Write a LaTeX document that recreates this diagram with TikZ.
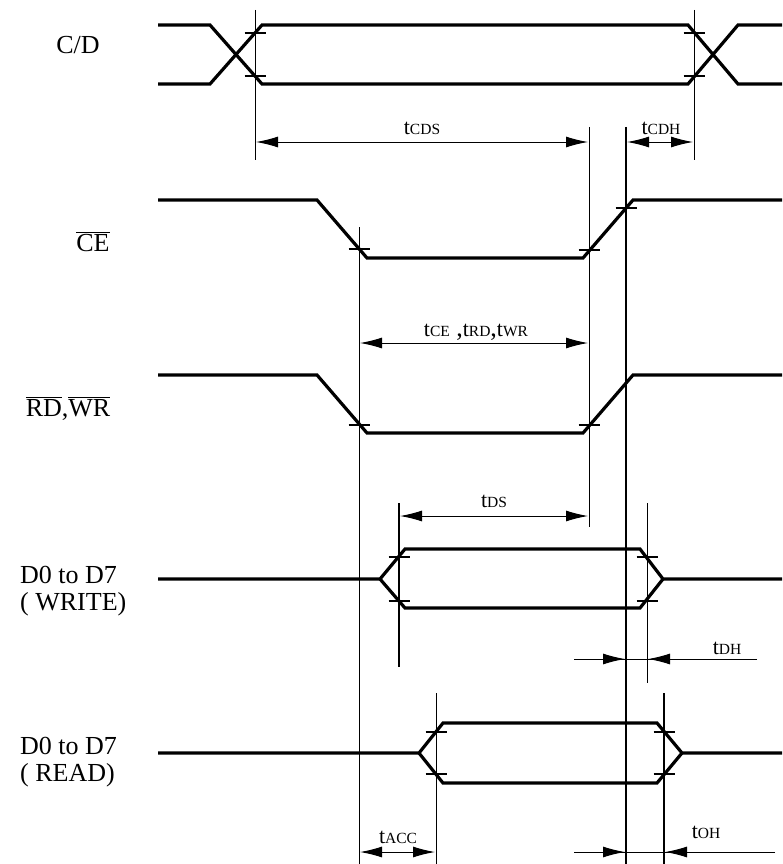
\documentclass[tikz,border=0pt]{standalone}
\usepackage{fontspec}
\setmainfont{Liberation Serif}
\usetikzlibrary{arrows.meta}
\newcommand{\tm}[1]{{\fontsize{22}{22}\selectfont t}{\fontsize{15.5}{15.5}\selectfont #1}}

\begin{document}
\begin{tikzpicture}[%
    x=1pt,y=-1pt,
    every node/.style={
        font=\fontsize{26}{27}\selectfont,
        inner sep=0pt,
    },
    signal/.style={line width=3.2pt},
    guide/.style={line width=1pt},
    guidethick/.style={line width=2pt},
    marker/.style={line width=1.3pt},
    dim/.style={line width=1pt},
    dimboth/.style={dim,{Latex[length=22pt,width=11pt]}-{Latex[length=22pt,width=11pt]}},
    dimto/.style={dim,-{Latex[length=22pt,width=11pt]}},
]
\useasboundingbox (0,0) rectangle (782,864);

% signal names
\node[anchor=base] (cd) at (78,54) {C/D};
\node[anchor=base] (ce) at (93,251) {$\overline{\mbox{CE}}$};
\node[anchor=base] (rdwr) at (68,416) {$\overline{\mbox{RD}}$,$\overline{\mbox{WR}}$};
\node[anchor=base west,align=left] (dwrite) at (20,610) {D0 to D7\\( WRITE)};
\node[anchor=base west,align=left] (dread) at (20,781) {D0 to D7\\( READ)};

% draw waveforms
\draw[signal] (158,25) -- (210,25) -- (262,84) -- (688,84) -- (738,25) -- (782,25);
\draw[signal] (158,84) -- (210,84) -- (262,25) -- (688,25) -- (738,84) -- (782,84);
\draw[signal] (158,200) -- (317,200) -- (367,258) -- (583,258) -- (633,200) -- (782,200);
\draw[signal] (158,375) -- (317,375) -- (367,433) -- (583,433) -- (633,375) -- (782,375);
\draw[signal] (158,579) -- (380,579) -- (405,549) -- (640,549) -- (663,579) -- (782,579);
\draw[signal] (380,579) -- (405,608) -- (640,608) -- (663,579);
\draw[signal] (158,753) -- (419,753) -- (443,723) -- (657,723) -- (682,753) -- (782,753);
\draw[signal] (419,753) -- (443,783) -- (657,783) -- (682,753);

% draw vertical guide lines
\draw[guide] (255,10) -- (255,160);
\draw[guide] (694,10) -- (694,160);
\draw[guide] (589,127) -- (589,527);
\draw[guidethick] (626,127) -- (626,864);
\draw[guide] (359,227) -- (359,864);
\draw[guidethick] (399,503) -- (399,667);
\draw[guide] (647,503) -- (647,683);
\draw[guide] (436,693) -- (436,864);
\draw[guidethick] (664,693) -- (664,864);

% draw crossing marks
\foreach \x/\y in {255/33,255/76,694/33,694/76,359/249,589/250,626/208,
    359/425,589/425,399/557,399/601,647/557,647/601,436/732,436/774,664/732,664/774}{
    \draw[marker] (\x-10.5,\y) -- (\x+10.5,\y);
}

% draw timing arrows
\draw[dimboth] (256,142) -- (588,142);
\draw[dimboth] (627,142) -- (693,142);
\draw[dimboth] (360,343) -- (588,343);
\draw[dimboth] (400,516) -- (588,516);
\draw[dimboth] (360,852) -- (435,852);
\draw[dim] (574,659) -- (757,659);
\draw[dimto] (574,659) -- (625,659);
\draw[dimto] (757,659) -- (648,659);
\draw[dim] (574,852) -- (775,852);
\draw[dimto] (574,852) -- (625,852);
\draw[dimto] (775,852) -- (665,852);

% timing labels
\node[anchor=base] (tcds) at (422,135) {\tm{CDS}};
\node[anchor=base] (tcdh) at (661,135) {\tm{CDH}};
\node[anchor=base] (tce) at (476,336) {\tm{CE} ,\tm{RD},\tm{WR}};
\node[anchor=base] (tds) at (494,507) {\tm{DS}};
\node[anchor=base] (tdh) at (727,654) {\tm{DH}};
\node[anchor=base] (tacc) at (398,843) {\tm{ACC}};
\node[anchor=base] (toh) at (706,838) {\tm{OH}};

\end{tikzpicture}
\end{document}
